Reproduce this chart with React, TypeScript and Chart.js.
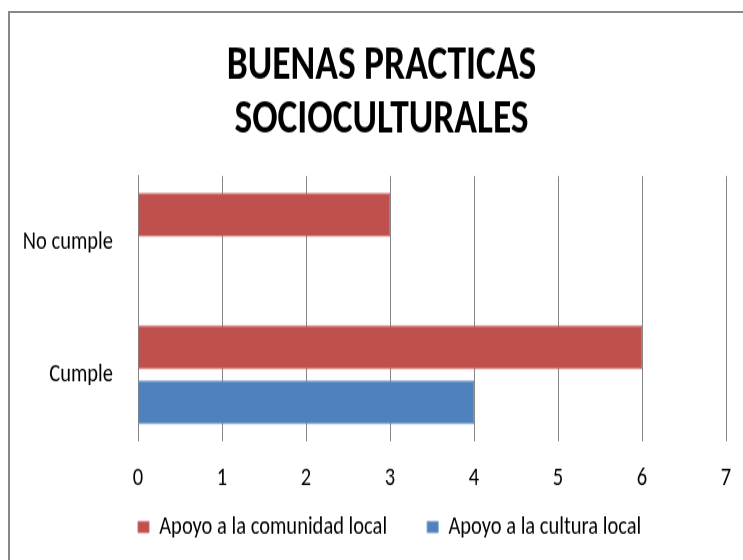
import React, { useEffect, useRef } from "react";
import { Chart, registerables } from "chart.js";

Chart.register(...registerables);

const categories = ["No cumple", "Cumple"];
const seriesNames = ["Apoyo a la comunidad local", "Apoyo a la cultura local"];
const comunidadValues = [3, 6];
const culturaValues = [0, 4];
const titleLines = ["BUENAS PRACTICAS", "SOCIOCULTURALES"];
const xMin = 0;
const xMax = 7;

const FONT = "Carlito, Calibri, 'Liberation Sans', sans-serif";

// The reference is rendered slightly stretched vertically: draw into a
// shorter bitmap and display it at full height.
const WIDTH = 743;
const HEIGHT = 560;
const V_STRETCH = 1.25;
const BITMAP_HEIGHT = HEIGHT / V_STRETCH;

// Layout nudges: title centre offset, legend start x and legend vertical offset
const TITLE_SHIFT_X = 18.5;
const LEGEND_START_X = 138;
const LEGEND_SHIFT_Y = -20.65;

const shiftBoxes = {
  id: "shiftBoxes",
  afterLayout(chart: any) {
    const t = chart.titleBlock;
    if (t) {
      t.left += TITLE_SHIFT_X;
      t.right += TITLE_SHIFT_X;
    }
    const l = chart.legend;
    if (l && l.lineWidths) {
      const pad = l.options.labels.padding;
      const start = (l.left + pad + l.right - l.lineWidths[0]) / 2;
      const dx = LEGEND_START_X - start;
      l.left += dx;
      l.right += dx;
      l.top += LEGEND_SHIFT_Y;
      l.bottom += LEGEND_SHIFT_Y;
    }
  },
};

export default function App() {
  const ref = useRef<HTMLCanvasElement | null>(null);

  useEffect(() => {
    document.body.style.margin = "0";
    if (!ref.current) return;
    const chart = new Chart(ref.current, {
      type: "bar",
      plugins: [shiftBoxes],
      data: {
        labels: categories,
        datasets: [
          {
            label: seriesNames[0],
            data: comunidadValues,
            backgroundColor: "#C0504D",
            borderColor: "#CF6E6B",
            borderWidth: 1,
            barPercentage: 0.8,
            categoryPercentage: 0.83,
          },
          {
            label: seriesNames[1],
            data: culturaValues,
            backgroundColor: "#4F81BD",
            borderColor: "#7097C9",
            borderWidth: 1,
            barPercentage: 0.8,
            categoryPercentage: 0.83,
          },
        ],
      },
      options: {
        indexAxis: "y",
        animation: false,
        responsive: false,
        devicePixelRatio: 1,
        layout: { padding: { left: 0, right: 17, top: 0, bottom: -14.5 } },
        plugins: {
          title: {
            display: true,
            text: titleLines,
            color: "#000",
            font: { family: FONT, size: 37.5, weight: "bold", lineHeight: 1.152 },
            padding: { top: 31.8, bottom: 22.6 },
          },
          legend: {
            position: "bottom",
            labels: {
              color: "#000",
              font: { family: FONT, size: 20.5 },
              boxWidth: 11,
              boxHeight: 11 / V_STRETCH,
              padding: 40,
            },
          },
          tooltip: { enabled: false },
        },
        scales: {
          x: {
            min: xMin,
            max: xMax,
            ticks: {
              stepSize: 1,
              color: "#000",
              font: { family: FONT, size: 20.5 },
              padding: 0,
            },
            grid: {
              color: "#868686",
              drawTicks: true,
              tickLength: 17.5,
              tickColor: "rgba(0,0,0,0)",
              lineWidth: 1,
            },
            border: { display: false },
            afterFit: (scale: any) => {
              scale.height = 39.2;
            },
          },
          y: {
            ticks: {
              color: "#000",
              font: { family: FONT, size: 20.5 },
              padding: 25,
            },
            grid: { display: false, drawTicks: false },
            border: { display: true, color: "#868686", width: 1 },
            afterFit: (scale: any) => {
              scale.width = 138;
            },
          },
        },
      },
    });
    return () => chart.destroy();
  }, []);

  return (
    <div style={{ position: "relative", width: WIDTH, height: HEIGHT, background: "#fff", overflow: "hidden" }}>
      <div
        style={{
          position: "absolute",
          left: 8,
          top: 11,
          width: 760,
          height: 580,
          borderLeft: "2px solid #878787",
          borderTop: "2px solid #878787",
          boxSizing: "border-box",
        }}
      />
      <canvas
        ref={ref}
        width={WIDTH}
        height={BITMAP_HEIGHT}
        style={{ position: "absolute", left: 0, top: 0, width: WIDTH, height: HEIGHT }}
      />
    </div>
  );
}
